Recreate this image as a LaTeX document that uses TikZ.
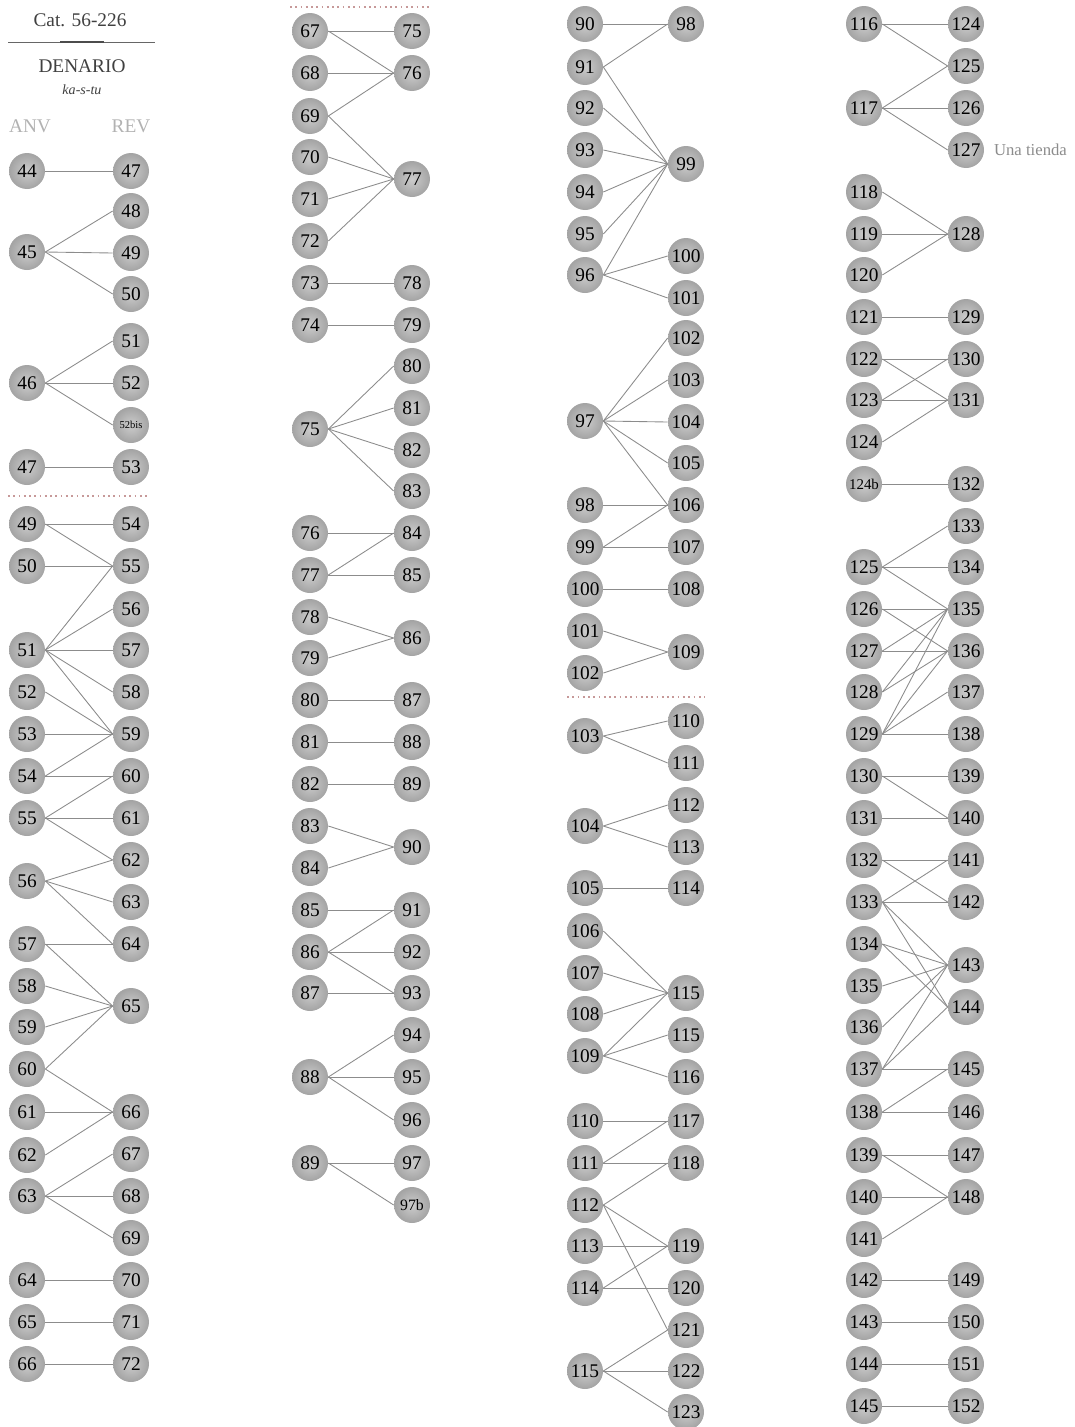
\documentclass[tikz,border=0pt]{standalone}
\usepackage{fontspec}
\setmainfont{Liberation Serif}
\usetikzlibrary{positioning}

\tikzset{
  coin/.style={circle,minimum size=0.72cm,inner sep=0pt,
    shading=radial,inner color=black!20,outer color=black!36,
    text=black,font=\fontsize{11}{11}\selectfont},
  coinsmall/.style={coin,font=\fontsize{6}{6}\selectfont},
  link/.style={draw=black!45,line width=0.5pt},
  sep/.style={draw=red!45!black!40,dotted,line width=1pt},
  head/.style={text=black!75,font=\fontsize{11}{11}\selectfont},
  side/.style={text=black!30,font=\fontsize{11}{11}\selectfont}
}

\begin{document}
\begin{tikzpicture}[x=0.02cm,y=-0.02cm]
  \useasboundingbox (0,0) rectangle (1075,1427);

  % ------- cabecera -------
  \node[head] (cat) at (80,20) {Cat. 56-226};
  \draw[black!60,line width=0.4pt] (8,42) -- (155,42);
  \draw[black!70,line width=1.2pt] (60,42) -- (104,42);
  \node[head] (den) at (82,66) {DENARIO};
  \node[text=black!75,font=\fontsize{8}{8}\selectfont\itshape,below=0pt of den] (leg) {ka-s-tu};
  \node[side] (anv) at (30,126) {ANV};
  \node[side] (rev) at (131,126) {REV};

  %================= columna 1 =================
  \foreach \n/\y in {44/171,45/252,46/383,47/467,49/524,50/566,51/650,52/692,
      53/734,54/776,55/818,56/881,57/944,58/986,59/1027,60/1069,61/1112,
      62/1155,63/1196,64/1280,65/1322,66/1364}
    \node[coin] (a\n) at (27,\y) {\n};
  \foreach \n/\y in {47/171,48/211,49/253,50/294,51/341,52/383,53/467,54/524,
      55/566,56/609,57/650,58/692,59/734,60/776,61/818,62/860,63/902,64/944,
      65/1006,66/1112,67/1154,68/1196,69/1238,70/1280,71/1322,72/1364}
    \node[coin] (r\n) at (131,\y) {\n};
  \node[coinsmall] (r52bis) at (131,425) {52bis};
  \draw[sep] (8,496) -- (148,496);

  \foreach \a/\r in {44/47,45/48,45/49,45/50,46/51,46/52,46/52bis,47/53,
      49/54,49/55,50/55,51/55,51/56,51/57,51/58,51/59,52/59,53/59,54/59,54/60,
      55/60,55/61,55/62,56/62,56/63,56/64,57/64,57/65,58/65,59/65,60/65,60/66,
      61/66,62/66,63/67,63/68,63/69,64/70,65/71,66/72}
    \draw[link] (a\a.east) -- (r\r.west);

  %================= columna 2 =================
  \draw[sep] (290,7) -- (430,7);
  \foreach \n/\y in {67/31,68/73,69/116,70/157,71/199,72/241,73/283,74/325,
      75/429,76/533,77/575,78/617,79/658,80/700,81/742,82/784,83/826,84/868,
      85/910,86/952,87/993,88/1077,89/1163}
    \node[coin] (a\n) at (310,\y) {\n};
  \foreach \n/\y in {75/31,76/73,77/179,78/283,79/325,80/366,81/408,82/450,
      83/491,84/533,85/575,86/638,87/700,88/742,89/784,90/847,91/910,92/952,
      93/993,94/1035,95/1077,96/1120,97/1163}
    \node[coin] (r\n) at (412,\y) {\n};
  \node[coin,font=\fontsize{9}{9}\selectfont] (r97b) at (412,1205) {97b};

  \foreach \a/\r in {67/75,67/76,68/76,69/76,69/77,70/77,71/77,72/77,73/78,
      74/79,75/80,75/81,75/82,75/83,76/84,77/84,77/85,78/86,79/86,80/87,81/88,
      82/89,83/90,84/90,85/91,86/91,86/92,86/93,87/93,88/94,88/95,88/96,89/97,
      89/97b}
    \draw[link] (a\a.east) -- (r\r.west);

  %================= columna 3 =================
  \foreach \n/\y in {90/24,91/67,92/108,93/150,94/192,95/234,96/275,97/421,
      98/505,99/547,100/589,101/631,102/673,103/736,104/826,105/888,106/931,
      107/973,108/1014,109/1056,110/1121,111/1163,112/1205,113/1246,114/1288,
      115/1371}
    \node[coin] (a\n) at (585,\y) {\n};
  \foreach \n/\y in {98/24,99/164,100/256,101/298,102/338,103/380,104/422,
      105/463,106/505,107/547,108/589,109/652,110/721,111/763,112/805,113/847,
      114/888,115/993,116/1077,117/1121,118/1163,119/1246,120/1288,121/1330,
      122/1371,123/1412}
    \node[coin] (r\n) at (686,\y) {\n};
  \node[coin] (r115b) at (686,1035) {115};
  \draw[sep] (567,697) -- (705,697);

  \foreach \a/\r in {90/98,91/98,91/99,92/99,93/99,94/99,95/99,96/99,96/100,
      96/101,97/102,97/103,97/104,97/105,97/106,98/106,99/106,99/107,100/108,
      101/109,102/109,103/110,103/111,104/112,104/113,105/114,106/115,107/115,
      108/115,109/115,109/115b,109/116,110/117,111/117,111/118,112/118,112/119,
      112/121,113/119,114/119,114/120,115/121,115/122,115/123}
    \draw[link] (a\a.east) -- (r\r.west);

  %================= columna 4 =================
  \foreach \n/\y in {116/24,117/108,118/192,119/234,120/275,121/317,122/359,
      123/400,124/442,125/567,126/609,127/651,128/692,129/734,130/776,131/818,
      132/860,133/902,134/944,135/986,136/1027,137/1069,138/1112,139/1155,
      140/1197,141/1239,142/1280,143/1322,144/1364,145/1406}
    \node[coin] (a\n) at (864,\y) {\n};
  \node[coin,font=\fontsize{8.5}{8.5}\selectfont] (a124b) at (864,484) {124b};
  \foreach \n/\y in {124/24,125/66,126/108,127/150,128/234,129/317,130/359,
      131/400,132/484,133/526,134/567,135/609,136/651,137/692,138/734,139/776,
      140/818,141/860,142/902,143/965,144/1007,145/1069,146/1112,147/1155,
      148/1197,149/1280,150/1322,151/1364,152/1406}
    \node[coin] (r\n) at (966,\y) {\n};
  \node[text=black!45,font=\fontsize{9.5}{9.5}\selectfont,right=2pt of r127] (nota) {Una tienda};

  \foreach \a/\r in {116/124,116/125,117/125,117/126,117/127,118/128,119/128,
      120/128,121/129,122/130,122/131,123/130,123/131,124/131,124b/132,125/133,
      125/134,125/135,126/135,126/136,127/135,127/136,128/135,128/136,129/135,
      129/136,129/137,129/138,130/139,130/140,131/140,132/141,132/142,133/141,
      133/142,133/143,133/144,134/143,134/144,135/143,136/143,137/143,137/144,
      137/145,138/145,138/146,139/147,139/148,140/148,141/148,142/149,143/150,
      144/151,145/152}
    \draw[link] (a\a.east) -- (r\r.west);

\end{tikzpicture}
\end{document}
